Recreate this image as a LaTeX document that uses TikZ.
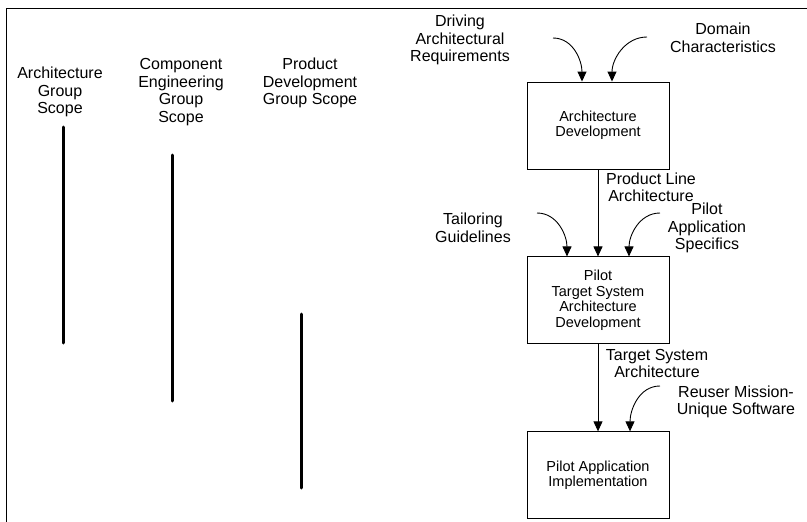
\documentclass[tikz,border=0pt]{standalone}
\usepackage{fontspec}
\setmainfont{Liberation Sans}
\usepackage{tikz}
\usetikzlibrary{arrows.meta, positioning, calc}

\begin{document}
\begin{tikzpicture}[
    x=1pt, y=-1pt,
    node distance=87pt,
    box/.style={rectangle, draw=black, line width=0.9pt, minimum width=142pt, minimum height=87pt, align=center, inner sep=2pt, font=\fontsize{14.5}{15.5}\selectfont},
    label/.style={align=center, inner sep=0pt, font=\fontsize{16}{17.5}\selectfont},
    scopebar/.style={line width=3pt, line cap=round},
    arrow/.style={-{Triangle[width=9pt,length=10pt]}, line width=0.9pt}
]
\useasboundingbox (0,0) rectangle (807,522);

% Frame
\draw[line width=0.8pt] (6.5,522) -- (6.5,8.5) -- (807,8.5);

% Group scopes
\node[label] (archscope) at (60,92) {Architecture\\Group\\Scope};
\node[label] (compscope) at (181,92) {Component\\Engineering\\Group\\Scope};
\node[label] (prodscope) at (310,83) {Product\\Development\\Group Scope};
\draw[scopebar] (63,127) -- (63,343);
\draw[scopebar] (172,155) -- (172,401);
\draw[scopebar] (301,314) -- (301,488);

% Nodes
\node[box] (archdev) at (598,125.5) {Architecture\\Development};
\node[box, below=of archdev] (pilotdev) {Pilot\\Target System\\Architecture\\Development};
\node[box, below=of pilotdev] (pilotimpl) {Pilot Application\\Implementation};

% Inputs
\node[label] (driving) at (460,40) {Driving\\Architectural\\Requirements};
\node[label] (domain) at (723,38) {Domain\\Characteristics};
\node[label] (tailoring) at (473,228) {Tailoring\\Guidelines};
\node[label] (specifics) at (707,228) {Pilot\\Application\\Specifics};
\node[label] (reuser) at (736,402) {Reuser Mission-\\Unique Software};
\node[label] (plarch) at (651,187.5) {Product Line\\Architecture};
\node[label] (tsarch) at (657,363.5) {Target System\\Architecture};
\coordinate (drivingend) at (553,38);
\coordinate (domainend) at (647,37);
\coordinate (tailoringend) at (537,213);
\coordinate (specificsend) at (660,213);
\coordinate (reuserend) at (660,386);

% Arrows
\draw[arrow] (archdev) -- (pilotdev);
\draw[arrow] (pilotdev) -- (pilotimpl);
\draw[arrow] (drivingend) to[out=0, in=90] ($(archdev.north)+(-16,0)$);
\draw[arrow] (domainend) to[out=180, in=90] ($(archdev.north)+(14,0)$);
\draw[arrow] (tailoringend) to[out=0, in=90] ($(pilotdev.north)+(-31,0)$);
\draw[arrow] (specificsend) to[out=180, in=90] ($(pilotdev.north)+(31,0)$);
\draw[arrow] (reuserend) to[out=180, in=90] ($(pilotimpl.north)+(32,0)$);

\end{tikzpicture}
\end{document}
